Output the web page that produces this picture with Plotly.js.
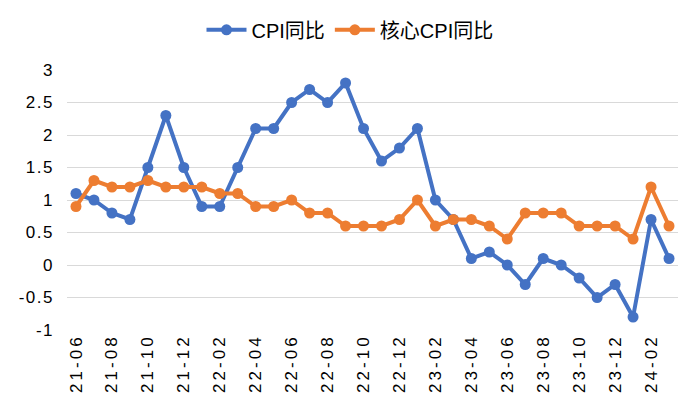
<!DOCTYPE html>
<html><head><meta charset="utf-8">
<script src="https://cdn.plot.ly/plotly-3.0.1.min.js"></script>
<style>
html,body{margin:0;padding:0;background:#fff}#c{width:700px;height:420px}
#c .xtick text{letter-spacing:3px}
#c .ytick text{letter-spacing:1.5px}
</style>
</head><body><div id="c"></div>
<script>
const months = ["21-06","21-07","21-08","21-09","21-10","21-11","21-12","22-01","22-02","22-03","22-04","22-05","22-06","22-07","22-08","22-09","22-10","22-11","22-12","23-01","23-02","23-03","23-04","23-05","23-06","23-07","23-08","23-09","23-10","23-11","23-12","24-01","24-02","24-03"];
const cpi = [1.1,1.0,0.8,0.7,1.5,2.3,1.5,0.9,0.9,1.5,2.1,2.1,2.5,2.7,2.5,2.8,2.1,1.6,1.8,2.1,1.0,0.7,0.1,0.2,0.0,-0.3,0.1,0.0,-0.2,-0.5,-0.3,-0.8,0.7,0.1];
const core = [0.9,1.3,1.2,1.2,1.3,1.2,1.2,1.2,1.1,1.1,0.9,0.9,1.0,0.8,0.8,0.6,0.6,0.6,0.7,1.0,0.6,0.7,0.7,0.6,0.4,0.8,0.8,0.8,0.6,0.6,0.6,0.4,1.2,0.6];
const tickLabels = months.filter((m,i)=>i%2===0);
const yTicks = [-1,-0.5,0,0.5,1,1.5,2,2.5,3];

const font = '"Liberation Sans", Arial, "Noto Sans CJK SC", sans-serif';
const traces = [
  {x: months, y: cpi, name: 'CPI同比', type: 'scatter', mode: 'lines+markers',
   line: {color: '#4472C4', width: 4}, marker: {color: '#4472C4', size: 11}},
  {x: months, y: core, name: '核心CPI同比', type: 'scatter', mode: 'lines+markers',
   line: {color: '#ED7D31', width: 4}, marker: {color: '#ED7D31', size: 11}}
];
const layout = {
  width: 700, height: 420,
  margin: {l: 67, r: 22, t: 70, b: 90, autoexpand: false},
  paper_bgcolor: '#fff', plot_bgcolor: '#fff',
  font: {family: font, size: 17, color: '#000'},
  showlegend: true,
  legend: {orientation: 'h', xref: 'container', x: 0.5, xanchor: 'center', yref: 'container', y: 0.929, yanchor: 'middle', font: {size: 20}, itemwidth: 40},
  xaxis: {type: 'category', range: [-0.5, 33.5], tickmode: 'array', tickvals: tickLabels, ticktext: tickLabels,
    tickangle: -90, showgrid: false, zeroline: false, showline: false, ticks: '', tickfont: {size: 17}},
  yaxis: {range: [-1, 3], tickmode: 'array', tickvals: yTicks, ticktext: yTicks.map(String),
    showgrid: true, gridcolor: '#D9D9D9', gridwidth: 1, zeroline: false, showline: false, ticks: '',
    ticklabelstandoff: 12, tickfont: {size: 17}}
};
Plotly.newPlot('c', traces, layout, {displayModeBar: false, staticPlot: true});
</script></body></html>
